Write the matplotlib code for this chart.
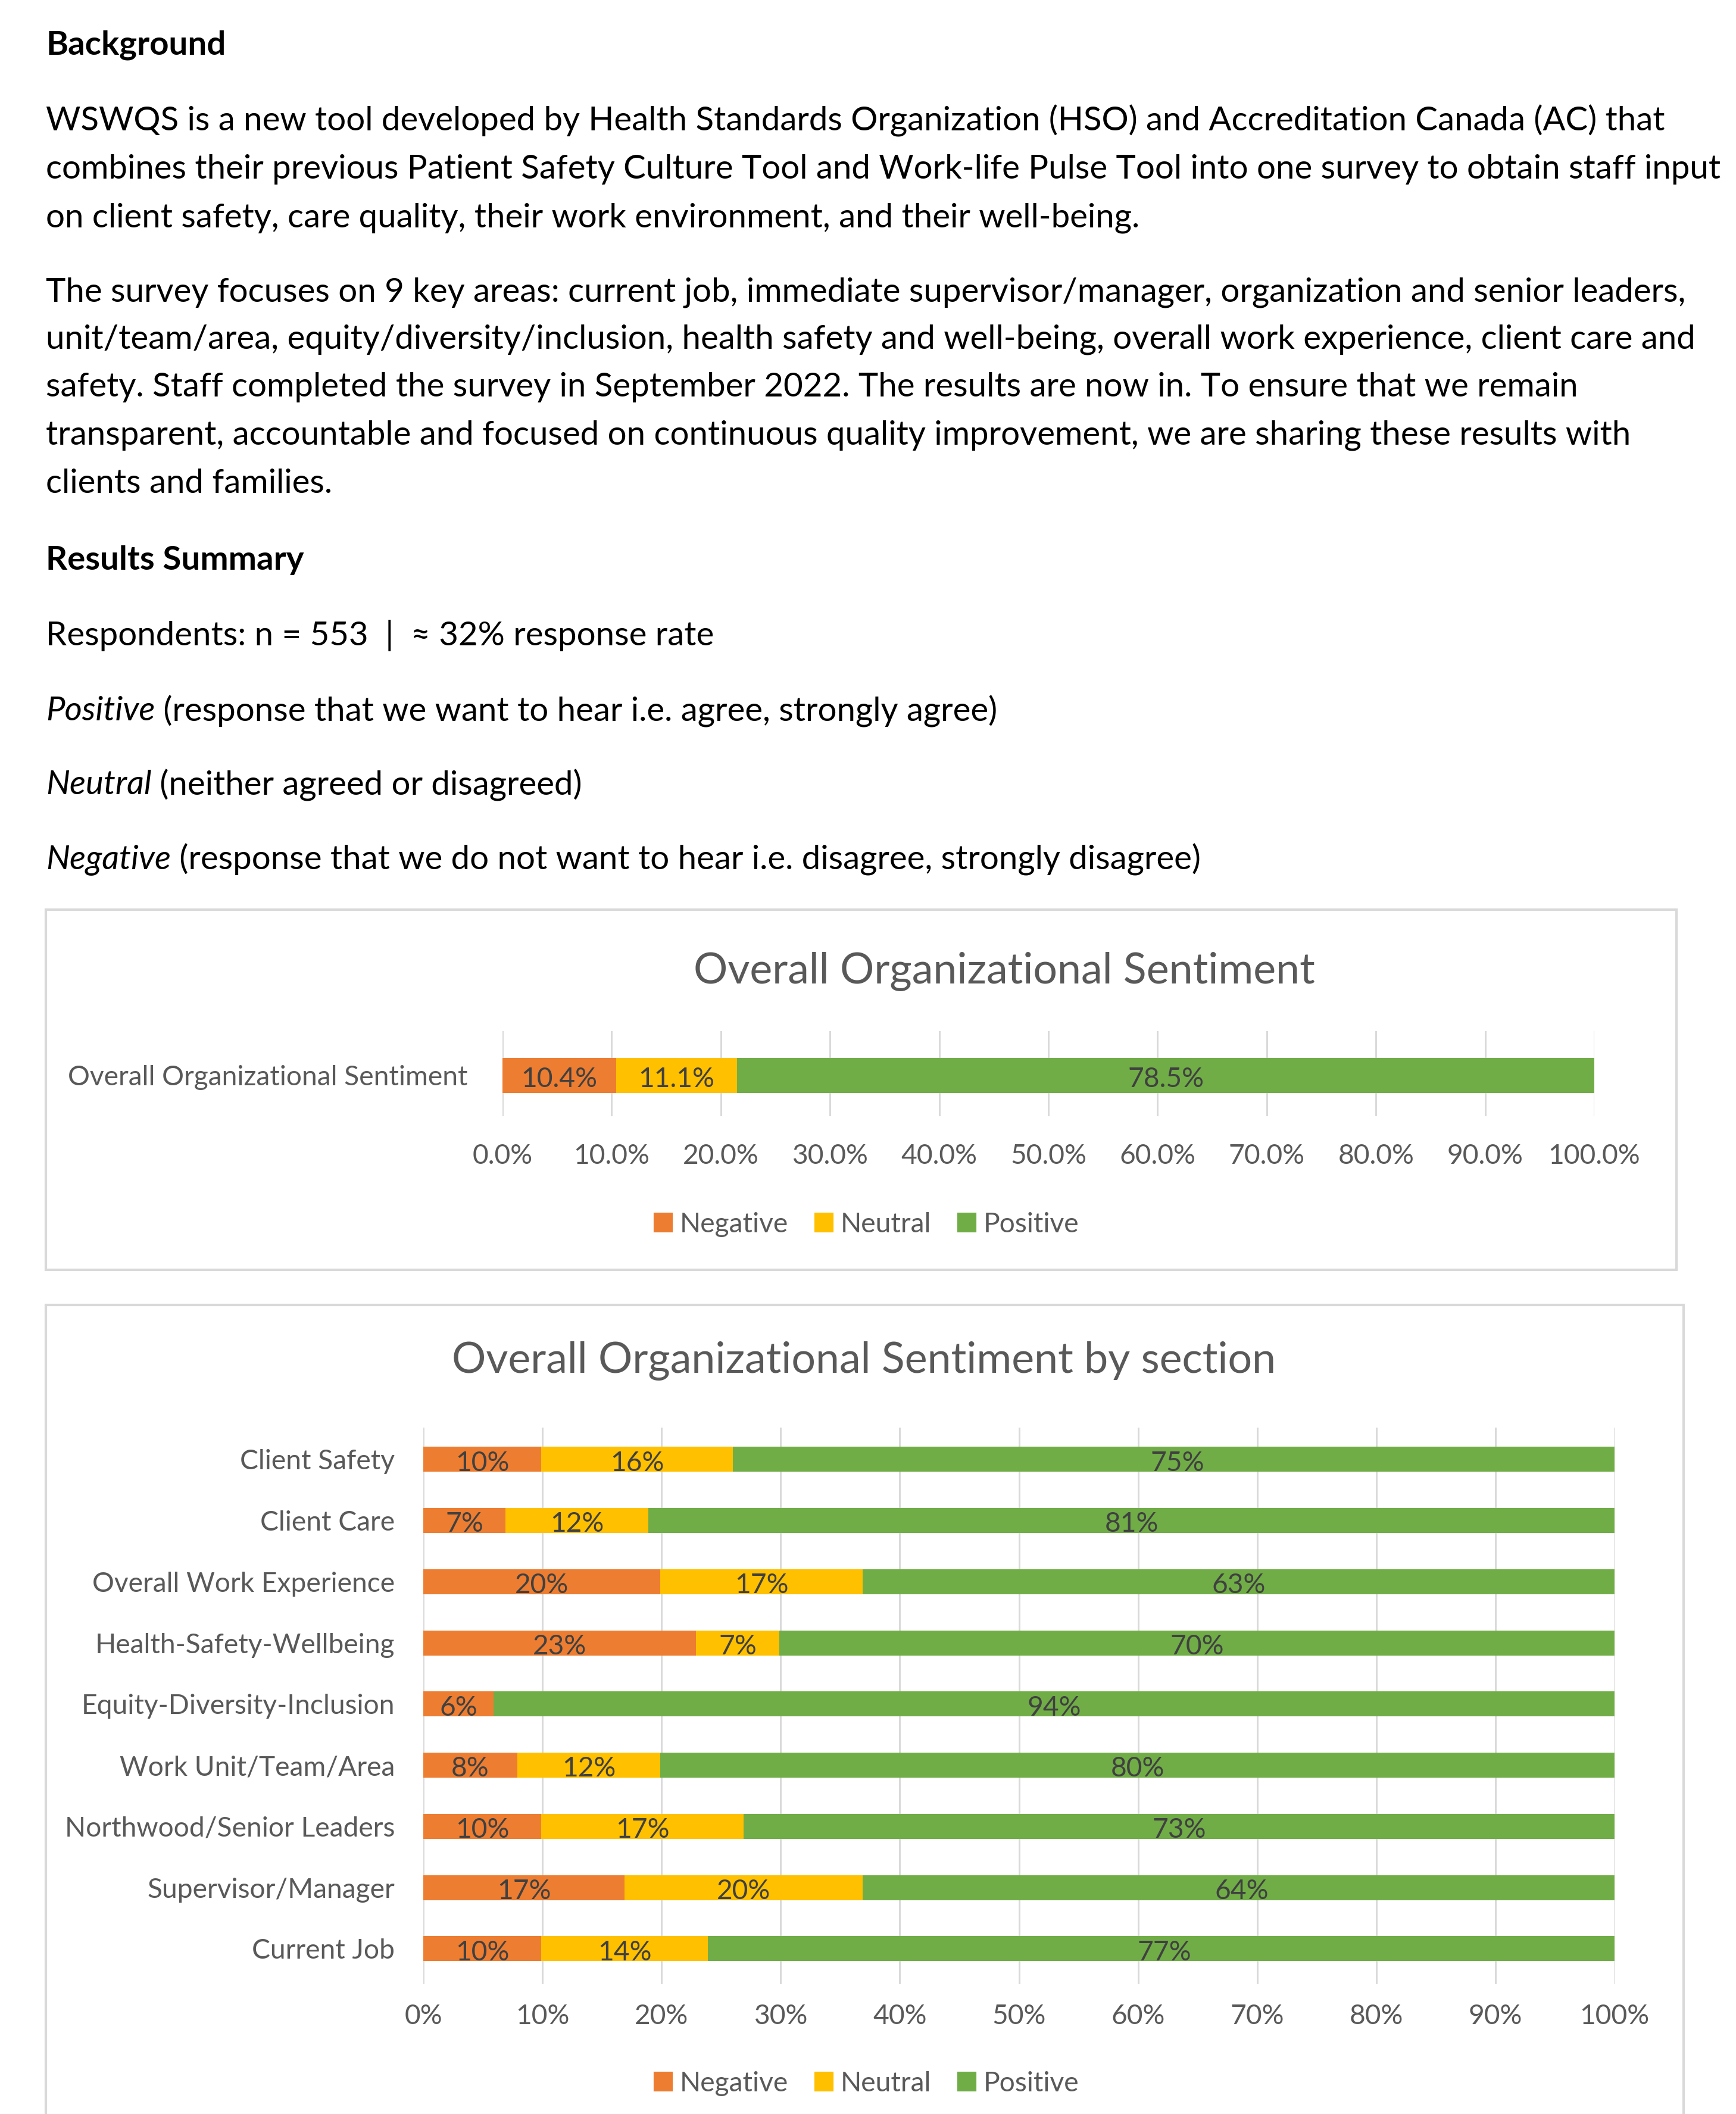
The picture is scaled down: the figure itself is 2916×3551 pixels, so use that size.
import numpy as np
import matplotlib.pyplot as plt
from matplotlib.patches import Rectangle, Patch

plt.rcParams['font.family'] = ['Lato', 'DejaVu Sans']

W, H = 2916, 3551
DPI = 300

# ---- data ----
overall_labels = ["Overall Organizational Sentiment"]
overall_negative = [10.4]
overall_neutral = [11.1]
overall_positive = [78.5]

sections = ["Client Safety", "Client Care", "Overall Work Experience",
            "Health-Safety-Wellbeing", "Equity-Diversity-Inclusion",
            "Work Unit/Team/Area", "Northwood/Senior Leaders",
            "Supervisor/Manager", "Current Job"]
sec_negative = [9.9, 6.9, 19.9, 22.9, 5.9, 7.9, 9.9, 16.9, 9.9]
sec_neutral = [16.1, 12.0, 17.0, 7.0, 0.0, 12.0, 17.0, 20.0, 14.0]
sec_positive = [74.6, 81.1, 63.1, 70.1, 94.1, 80.1, 73.1, 63.6, 76.6]

series_names = ["Negative", "Neutral", "Positive"]
xticks = list(range(0, 101, 10))

# ---- style ----
C_NEG, C_NEU, C_POS = "#ED7D31", "#FFC000", "#70AD47"
colors = [C_NEG, C_NEU, C_POS]
GREY = "#595959"
LABEL = "#404040"
GRID = "#D9D9D9"

K = 1.23
BODY = 11 * K
TICK = 9 * K
TITLE = 14 * K


def fx(px):
    return px / W


def fy(py):
    # small downward nudge so text centres line up with the page
    return 1 - (py + 4) / H


fig = plt.figure(figsize=(W / DPI, H / DPI), dpi=DPI)
bg = fig.add_axes([0, 0, 1, 1])
bg.set_xlim(0, 1)
bg.set_ylim(0, 1)
bg.axis('off')

# ---- page text ----
x0 = fx(77)
bg.text(x0, fy(72), "Background", fontsize=BODY, fontweight='bold', va='center')
para1 = [
    "WSWQS is a new tool developed by Health Standards Organization (HSO) and Accreditation Canada (AC) that",
    "combines their previous Patient Safety Culture Tool and Work-life Pulse Tool into one survey to obtain staff input",
    "on client safety, care quality, their work environment, and their well-being.",
]
for line, y in zip(para1, [199, 281, 362]):
    bg.text(x0, fy(y), line, fontsize=BODY, va='center')

para2 = [
    "The survey focuses on 9 key areas: current job, immediate supervisor/manager, organization and senior leaders,",
    "unit/team/area, equity/diversity/inclusion, health safety and well-being, overall work experience, client care and",
    "safety. Staff completed the survey in September 2022. The results are now in. To ensure that we remain",
    "transparent, accountable and focused on continuous quality improvement, we are sharing these results with",
    "clients and families.",
]
for line, y in zip(para2, [487, 566, 647, 727, 808]):
    bg.text(x0, fy(y), line, fontsize=BODY, va='center')

bg.text(x0, fy(937), "Results Summary", fontsize=BODY, fontweight='bold', va='center')
bg.text(x0, fy(1064), "Respondents: n = 553  |  \u2248 32% response rate", fontsize=BODY, va='center')

defs = [
    ("Positive", " (response that we want to hear i.e. agree, strongly agree)", 1191),
    ("Neutral", " (neither agreed or disagreed)", 1315),
    ("Negative", " (response that we do not want to hear i.e. disagree, strongly disagree)", 1440),
]
for word, rest, y in defs:
    t = bg.text(x0, fy(y), word, fontsize=BODY, style='italic', va='center')
    bg.annotate(rest, xy=(1, 0.5), xycoords=t, fontsize=BODY, va='center', ha='left')

# ---- chart frames ----
bg.add_patch(Rectangle((fx(77), 1 - 2133 / H), fx(2816 - 77), (2133 - 1528) / H,
                       fill=False, edgecolor=GRID, lw=1.0))
bg.add_patch(Rectangle((fx(77), 1 - 3700 / H), fx(2828 - 77), (3700 - 2192) / H,
                       fill=False, edgecolor=GRID, lw=1.0, clip_on=False))


def style_axes(ax, fmt, ypad, xpad):
    ax.set_xlim(0, 100)
    ax.set_xticks(xticks)
    ax.set_xticklabels([fmt.format(v) for v in xticks])
    ax.grid(axis='x', color=GRID, lw=0.7)
    ax.set_axisbelow(True)
    for s in ax.spines.values():
        s.set_visible(False)
    ax.tick_params(axis='both', length=0, labelsize=TICK, labelcolor=GREY)
    ax.tick_params(axis='y', pad=ypad)
    ax.tick_params(axis='x', pad=xpad)


def stacked(ax, labels, vals, fmt, height):
    y = np.arange(len(labels))
    left = np.zeros(len(labels))
    for v, c in zip(vals, colors):
        v = np.array(v)
        ax.barh(y, v, left=left, height=height, color=c)
        for yi, li, vi in zip(y, left, v):
            if vi > 0:
                ax.annotate(fmt.format(vi), xy=(li + vi / 2, yi), xytext=(0, -1.5),
                            textcoords='offset points', ha='center', va='center',
                            fontsize=TICK, color=LABEL)
        left = left + v
    ax.set_yticks(y)
    ax.set_yticklabels(labels)


# ---- chart 1 ----
ax1 = fig.add_axes([fx(844), 1 - 1875 / H, fx(2678 - 844), (1875 - 1732) / H])
stacked(ax1, overall_labels, [overall_negative, overall_neutral, overall_positive],
        "{:.1f}%", 0.41)
ax1.set_ylim(0.48, -0.52)
style_axes(ax1, "{:.1f}%", 14, 11)
bg.text(fx(1687), fy(1628), "Overall Organizational Sentiment", fontsize=TITLE,
        color=GREY, ha='center', va='center')

handles = [Patch(color=c, label=n) for c, n in zip(colors, series_names)]
leg_kw = dict(loc='center', ncol=3, frameon=False, fontsize=TICK, labelcolor=GREY,
              handlelength=0.6, handleheight=0.6, handletextpad=0.3, columnspacing=1.0)
fig.legend(handles=handles, bbox_to_anchor=(fx(1456), fy(2053)), **leg_kw)

# ---- chart 2 ----
ax2 = fig.add_axes([fx(711), 1 - 3333 / H, fx(2712 - 711), (3333 - 2398) / H])
stacked(ax2, sections, [sec_negative, sec_neutral, sec_positive], "{:.0f}%", 0.41)
ax2.set_ylim(8.58, -0.52)
style_axes(ax2, "{:.0f}%", 11.5, 8)
bg.text(fx(1451), fy(2282), "Overall Organizational Sentiment by section", fontsize=TITLE,
        color=GREY, ha='center', va='center')
fig.legend(handles=handles, bbox_to_anchor=(fx(1456), fy(3496)), **leg_kw)

fig.savefig("out.png", dpi=DPI)
